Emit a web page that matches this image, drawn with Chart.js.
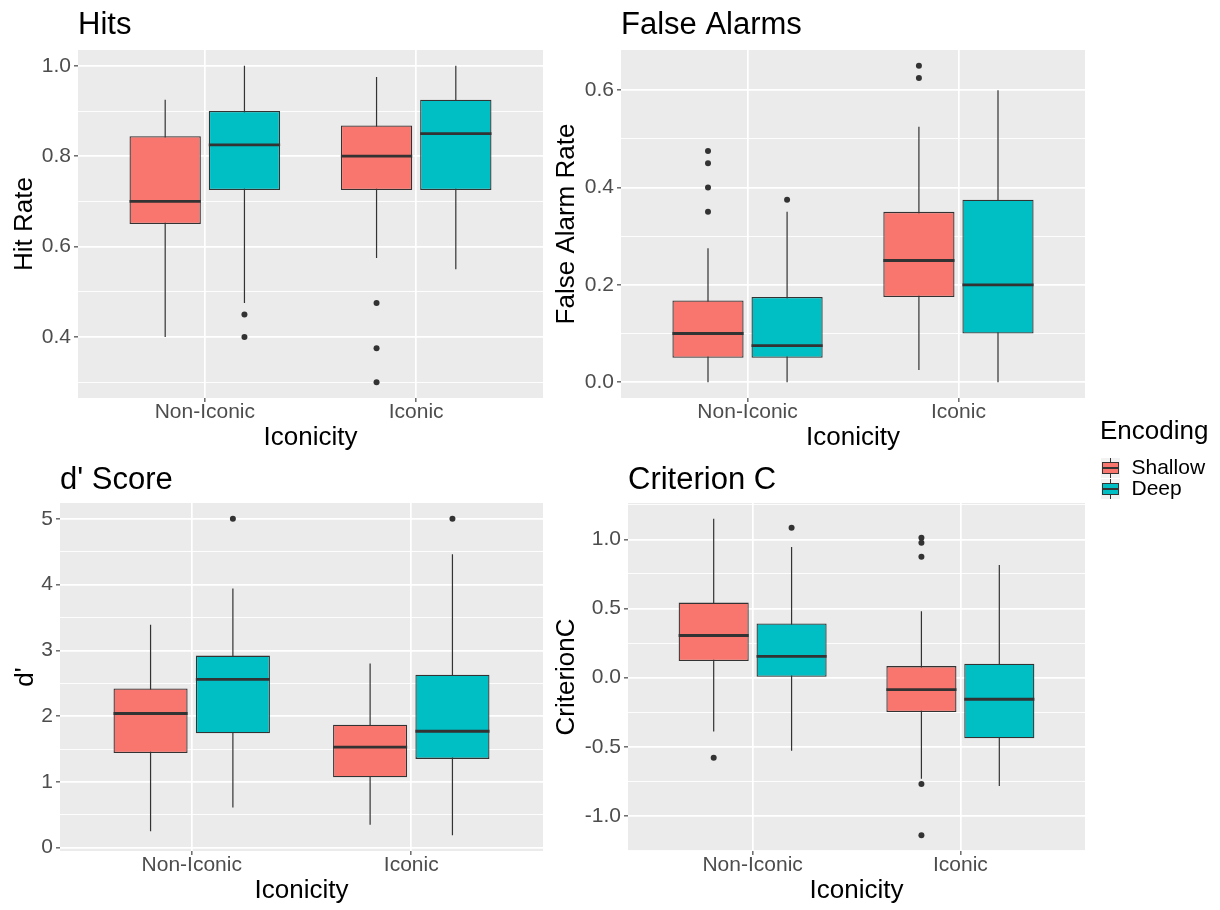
<!DOCTYPE html>
<html>
<head>
<meta charset="utf-8">
<title>Hits, False Alarms, d' Score, Criterion C</title>
<script src="https://cdn.jsdelivr.net/npm/chart.js@4.4.1/dist/chart.umd.min.js"></script>
<style>
  body { margin: 0; background: #fff; }
  #wrap { position: relative; width: 1220px; height: 910px; }
  canvas { position: absolute; }
</style>
</head>
<body>
<div id="wrap">
  <canvas id="hits" width="560" height="455" style="left:0;top:0"></canvas>
  <canvas id="fa" width="545" height="455" style="left:545px;top:0"></canvas>
  <canvas id="dprime" width="560" height="455" style="left:0;top:455px"></canvas>
  <canvas id="crit" width="545" height="455" style="left:545px;top:455px"></canvas>
  <canvas id="legend" width="120" height="240" style="left:1100px;top:410px"></canvas>
</div>
<script>
Chart.defaults.font.family = "'Liberation Sans', Arial, Helvetica, sans-serif";
Chart.defaults.color = '#4D4D4D';

const categories = ['Non-Iconic', 'Iconic'];
const encodings = ['Shallow', 'Deep'];
const fills = ['#F8766D', '#00BFC4'];
const ink = '#333333';

// each box: [lower whisker, Q1, median, Q3, upper whisker], one per category
const hitsShallow = [[0.40, 0.65, 0.70, 0.844, 0.925], [0.575, 0.725, 0.80, 0.868, 0.975]];
const hitsDeep = [[0.475, 0.725, 0.825, 0.90, 1.0], [0.55, 0.725, 0.85, 0.925, 1.0]];
const hitsShallowOut = [[], [0.475, 0.375, 0.30]];
const hitsDeepOut = [[0.45, 0.40], []];
const hitsTicks = [0.4, 0.6, 0.8, 1.0];
const hitsMinor = [0.3, 0.5, 0.7, 0.9];

const faShallow = [[0, 0.05, 0.10, 0.168, 0.275], [0.025, 0.175, 0.25, 0.35, 0.525]];
const faDeep = [[0, 0.05, 0.075, 0.175, 0.35], [0, 0.10, 0.20, 0.375, 0.60]];
const faShallowOut = [[0.35, 0.40, 0.45, 0.475], [0.625, 0.65]];
const faDeepOut = [[0.375], []];
const faTicks = [0, 0.2, 0.4, 0.6];
const faMinor = [0.1, 0.3, 0.5];

const dShallow = [[0.25, 1.44, 2.04, 2.42, 3.39], [0.35, 1.07, 1.53, 1.87, 2.80]];
const dDeep = [[0.61, 1.74, 2.56, 2.92, 3.94], [0.19, 1.35, 1.77, 2.63, 4.46]];
const dShallowOut = [[], []];
const dDeepOut = [[5.0], [5.0]];
const dTicks = [0, 1, 2, 3, 4, 5];
const dMinor = [0.5, 1.5, 2.5, 3.5, 4.5];

const cShallow = [[-0.389, 0.12, 0.305, 0.543, 1.149], [-0.731, -0.248, -0.087, 0.084, 0.481]];
const cDeep = [[-0.529, 0.0, 0.154, 0.392, 0.945], [-0.784, -0.438, -0.156, 0.101, 0.815]];
const cShallowOut = [[-0.579], [1.012, 0.976, 0.875, -0.769, -1.139]];
const cDeepOut = [[1.084], []];
const cTicks = [-1.0, -0.5, 0.0, 0.5, 1.0];
const cMinor = [-1.25, -0.75, -0.25, 0.25, 0.75, 1.25];

// grey panel behind the plot area
const panelBg = {
  id: 'panelBg',
  beforeDraw(chart) {
    const a = chart.chartArea;
    const ctx = chart.ctx;
    ctx.save();
    ctx.fillStyle = '#EBEBEB';
    ctx.fillRect(a.left, a.top, a.right - a.left, a.bottom - a.top);
    ctx.restore();
  }
};

const dodge = 0.75 / encodings.length;
const boxHalf = dodge * 0.9 / 2;
const xPos = (ci, g) => ci + 1 + (g - (encodings.length - 1) / 2) * dodge;

function buildDatasets(boxes, outs) {
  const whiskers = [], medians = [], points = [];
  boxes.forEach((series, g) => series.forEach((b, ci) => {
    const x = xPos(ci, g);
    whiskers.push({x: x, y: b[0]}, {x: x, y: b[4]}, {x: x, y: null});
    medians.push({x: x - boxHalf, y: b[2]}, {x: x + boxHalf, y: b[2]}, {x: x, y: null});
    outs[g][ci].forEach(v => points.push({x: x, y: v}));
  }));
  const bars = boxes.map((series, g) => ({
    type: 'bar', label: encodings[g], order: 3,
    data: series.map((b, ci) => ({x: ci + 1, y: [b[1], b[3]]})),
    backgroundColor: fills[g], borderColor: ink, borderWidth: 1.3, borderSkipped: false,
    categoryPercentage: dodge * encodings.length, barPercentage: 0.9
  }));
  return [
    {type: 'line', data: whiskers, order: 4, borderColor: ink, borderWidth: 1.2,
     pointRadius: 0, spanGaps: false, tension: 0, fill: false},
    ...bars,
    {type: 'line', data: medians, order: 2, borderColor: ink, borderWidth: 2.8,
     pointRadius: 0, spanGaps: false, tension: 0, fill: false},
    {type: 'scatter', data: points, order: 1, pointRadius: 3, backgroundColor: ink, borderWidth: 0}
  ];
}

function yRange(boxes, outs) {
  const vals = boxes.flat(2).concat(outs.flat(2));
  const lo = Math.min(...vals), hi = Math.max(...vals);
  const pad = (hi - lo) * 0.05;
  return [lo - pad, hi + pad];
}

function makePanel(id, title, yTitle, boxes, outs, major, minor, digits, f) {
  const [lo, hi] = yRange(boxes, outs);
  return new Chart(document.getElementById(id), {
    type: 'bar',
    data: {datasets: buildDatasets(boxes, outs)},
    plugins: [panelBg],
    options: {
      responsive: false,
      animation: false,
      events: [],
      layout: {padding: {left: 0, top: 0, right: f.padRight, bottom: 0}},
      plugins: {
        legend: {display: false},
        tooltip: {enabled: false},
        title: {
          display: true, text: title, align: 'start', fullSize: false, color: '#000000',
          font: {size: 31, weight: 'normal', lineHeight: 1.2},
          padding: {top: 6.4, bottom: f.titleBottom}
        }
      },
      scales: {
        x: {
          type: 'linear', min: 0.4, max: categories.length + 0.6, offset: false,
          afterBuildTicks: s => { s.ticks = categories.map((c, i) => ({value: i + 1})); },
          afterFit: s => { s.height = f.xHeight; },
          ticks: {
            callback: v => categories[v - 1],
            font: {size: 21, lineHeight: 1.0}, color: '#4D4D4D', padding: 0,
            maxRotation: 0, autoSkip: false
          },
          grid: {offset: false, color: '#FFFFFF', lineWidth: 1.7, tickColor: ink, tickLength: 4, tickWidth: 1.1},
          border: {display: false},
          title: {display: true, text: 'Iconicity', color: '#000000',
                  font: {size: 26, lineHeight: 1.2}, padding: {top: 0, bottom: f.xTitlePad}}
        },
        y: {
          type: 'linear', min: lo, max: hi,
          afterBuildTicks: s => {
            s.ticks = major.map(v => ({value: v}))
              .concat(minor.filter(v => v > lo && v < hi).map(v => ({value: v, minor: true})))
              .sort((a, b) => a.value - b.value);
          },
          afterFit: s => { s.width = f.yWidth; },
          ticks: {
            callback: (v, i, arr) => arr[i].minor ? '' : v.toFixed(digits),
            font: {size: 21, lineHeight: 1.2}, color: '#4D4D4D', padding: 3
          },
          grid: {
            color: '#FFFFFF',
            lineWidth: c => (c.tick && c.tick.minor) ? 0.9 : 1.7,
            tickColor: c => (c.tick && c.tick.minor) ? 'rgba(0,0,0,0)' : ink,
            tickLength: 4, tickWidth: 1.1
          },
          border: {display: false},
          title: {display: true, text: yTitle, color: '#000000',
                  font: {size: 26, lineHeight: 1.2}, padding: {top: f.yTitlePad, bottom: 0}}
        }
      }
    }
  });
}

makePanel('hits', 'Hits', 'Hit Rate', [hitsShallow, hitsDeep], [hitsShallowOut, hitsDeepOut],
  hitsTicks, hitsMinor, 1, {yWidth: 78, padRight: 17, xHeight: 57, titleBottom: 6.4, yTitlePad: 9.4, xTitlePad: 1.4});
makePanel('fa', 'False Alarms', 'False Alarm Rate', [faShallow, faDeep], [faShallowOut, faDeepOut],
  faTicks, faMinor, 1, {yWidth: 76, padRight: 5, xHeight: 57, titleBottom: 6.4, yTitlePad: 6.4, xTitlePad: 1.4});
makePanel('dprime', "d' Score", "d'", [dShallow, dDeep], [dShallowOut, dDeepOut],
  dTicks, dMinor, 0, {yWidth: 60, padRight: 17, xHeight: 59, titleBottom: 4.4, yTitlePad: 10.4, xTitlePad: 3.4});
makePanel('crit', 'Criterion C', 'CriterionC', [cShallow, cDeep], [cShallowOut, cDeepOut],
  cTicks, cMinor, 1, {yWidth: 83, padRight: 5, xHeight: 59, titleBottom: 4.4, yTitlePad: 6.4, xTitlePad: 3.4});

// small boxplot glyph for the legend keys
function keyIcon(color) {
  const c = document.createElement('canvas');
  c.width = 19; c.height = 20;
  const g = c.getContext('2d');
  g.fillStyle = '#F2F2F2';
  g.fillRect(0, 0, 19, 20);
  g.strokeStyle = ink;
  g.lineWidth = 1;
  g.beginPath();
  g.moveTo(9.5, 0); g.lineTo(9.5, 4.5);
  g.moveTo(9.5, 15.5); g.lineTo(9.5, 20);
  g.stroke();
  g.fillStyle = color;
  g.fillRect(1.5, 4.5, 16, 11);
  g.strokeRect(1.5, 4.5, 16, 11);
  g.lineWidth = 2;
  g.beginPath();
  g.moveTo(1.5, 10); g.lineTo(17.5, 10);
  g.stroke();
  return c;
}

new Chart(document.getElementById('legend'), {
  type: 'bar',
  data: {labels: [], datasets: encodings.map((e, g) => ({label: e, data: [], backgroundColor: fills[g]}))},
  options: {
    responsive: false,
    animation: false,
    events: [],
    scales: {x: {display: false}, y: {display: false}},
    plugins: {
      tooltip: {enabled: false},
      legend: {
        position: 'top', align: 'start',
        title: {display: true, text: 'Encoding', position: 'start', color: '#000000',
                font: {size: 26, lineHeight: 1.2}, padding: {top: 9, bottom: 7.3}},
        labels: {
          usePointStyle: true, color: '#000000', font: {size: 21}, padding: 0,
          generateLabels: chart => chart.data.datasets.map((ds, i) => ({
            text: ds.label, pointStyle: keyIcon(fills[i]), fillStyle: ds.backgroundColor,
            strokeStyle: ink, lineWidth: 0, hidden: false, datasetIndex: i, fontColor: '#000000'
          }))
        }
      }
    }
  }
});
</script>
</body>
</html>
